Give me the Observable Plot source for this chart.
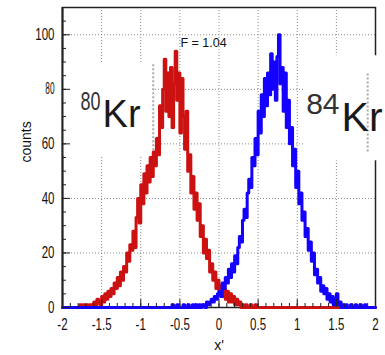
<!DOCTYPE html>
<html><head><meta charset="utf-8">
<script src="https://cdn.jsdelivr.net/npm/d3@7"></script>
<script src="https://cdn.jsdelivr.net/npm/@observablehq/plot@0.6"></script>
<style>body{margin:0;background:#fff} svg{display:block}</style>
</head><body><div id="chart"></div>
<script>
// ---- data ----
const binWidth = 0.02;
const redStart = -1.80;
const redCounts = [
 0,1,0,1,0,1,0,1,1,0, 2,1,3,2,1,4,2,5,3,6,
 4,7,5,9,7,11,8,13,10,15, 13,20,17,23,21,28,22,33,40,31,
 45,38,49,42,52,46,55,48,57,52, 62,56,74,66,80,91,72,86,70,88,
 66,82,94,76,86,64,84,70,58,72, 50,56,42,48,36,42,32,38,26,30,
 20,25,18,21,13,16,10,13,7,10, 6,8,4,7,3,6,2,5,2,4,
 1,3,1,2,0,1,0,1,0,0, 1,0,0,1,0
];
const blueStart = -0.60;
const blueCounts = [
 1,0,0,1,0,0,0,1,0,0, 1,0,0,1,0,1,0,1,0,1,
 1,0,2,1,2,3,2,4,3,5, 6,4,9,7,11,9,14,11,16,13,
 19,16,22,26,24,32,36,33,42,47, 44,55,52,62,56,72,64,78,70,84,
 74,86,78,93,80,90,76,92,100,82, 88,72,86,66,76,60,66,52,58,44,
 50,38,42,32,35,26,29,21,24,17, 20,12,14,9,11,6,8,5,7,3,
 5,2,4,1,3,5,1,2,0,1, 0,1,0,0,1,0,0,1,0,0, 1,0,0,1,0,0
];
const xTicks = [-2, -1.5, -1, -0.5, 0, 0.5, 1, 1.5, 2];
const xTickLabels = ["-2", "-1.5", "-1", "-0.5", "0", "0.5", "1", "1.5", "2"];
const yTicks = [0, 20, 40, 60, 80, 100];
const yTickLabels = ["0", "20", "40", "60", "80", "100"];
const xGrid = [-1.5, -1, -0.5, 0, 0.5, 1, 1.5];
const yGrid = [20, 40, 60, 80, 100];
const xLabel = "x'";
const yLabel = "counts";
const fitText = "F = 1.04";
const massNumbers = ["80", "84"];
const elementSymbol = "Kr";

// ---- build step histograms over the full axis range ----
const XMIN = -2, XMAX = 2;
function steps(start, counts) {
  const n = Math.round((XMAX - XMIN) / binWidth);
  const off = Math.round((start - XMIN) / binWidth);
  const rows = [];
  for (let k = 0; k < n; k++) rows.push({x: XMIN + k * binWidth, y: counts[k - off] ?? 0});
  rows.push({x: XMAX, y: rows[n - 1].y});
  return rows;
}
const xMinor = d3.range(-20, 21).map(d => d / 10);
const yMinor = d3.range(0, 23).map(d => d * 5);

const font = "'Liberation Sans', Arial, sans-serif";
const plot = Plot.plot({
  width: 385, height: 355,
  marginLeft: 62, marginRight: 10, marginTop: 7, marginBottom: 48,
  x: {domain: [-2, 2], axis: null},
  y: {domain: [0, 110], axis: null},
  style: {fontFamily: font, background: "#fff", color: "#222"},
  marks: [
    Plot.ruleX(xGrid, {stroke: "#8a8a8a", strokeDasharray: "1,2"}),
    Plot.ruleY(yGrid, {stroke: "#8a8a8a", strokeDasharray: "1,2"}),
    Plot.frame({stroke: "#222", strokeWidth: 1.5}),
    Plot.rect([0], {x1: -2, x2: -0.84, y1: 55.7, y2: 89.7, fill: "white"}),
    Plot.rect([0], {x1: 1.08, x2: 2.14, y1: 53.8, y2: 92.3, fill: "white", clip: false}),
    Plot.ruleX([-0.84], {y1: 56, y2: 89, stroke: "#aaa", strokeWidth: 2, strokeDasharray: "2,2"}),
    Plot.ruleX([1.9], {y1: 57, y2: 86, stroke: "#aaa", strokeWidth: 2, strokeDasharray: "2,2"}),
    Plot.line(steps(redStart, redCounts), {x: "x", y: "y", curve: "step-after", stroke: "#cc1111", strokeWidth: 3}),
    Plot.line(steps(blueStart, blueCounts), {x: "x", y: "y", curve: "step-after", stroke: "#1400ff", strokeWidth: 3}),
    Plot.ruleX([-2], {stroke: "#222", strokeWidth: 2}),
    Plot.axisY({ticks: yTicks, tickSize: -8, tickFormat: () => "", label: null, stroke: "#222"}),
    Plot.axisY({ticks: yMinor, tickSize: -4, tickFormat: () => "", label: null, stroke: "#222"}),
    Plot.axisY({ticks: yTicks, tickSize: 0, tickPadding: 8, fontSize: 16, fill: "#111",
      tickFormat: d => yTickLabels[yTicks.indexOf(d)], label: null}),
    Plot.axisX({ticks: xTicks, anchor: "bottom", tickSize: -8, tickFormat: () => "", label: null, stroke: "#222"}),
    Plot.axisX({ticks: xMinor, anchor: "bottom", tickSize: -4, tickFormat: () => "", label: null, stroke: "#222"}),
    Plot.axisX({ticks: xTicks, anchor: "bottom", tickSize: 0, tickPadding: 11, fontSize: 16, fill: "#111",
      tickFormat: d => xTickLabels[xTicks.indexOf(d)], label: null}),
    Plot.text([yLabel], {frameAnchor: "left", dx: -36, dy: 5, rotate: -90, fontSize: 14, fill: "#111"}),
    Plot.text([xLabel], {frameAnchor: "bottom", dy: 42, fontSize: 14, fill: "#111"}),
    Plot.text([fitText], {x: -0.198, y: 97.1, fontSize: 12.5, fill: "#111"}),
    Plot.text([massNumbers[0]], {x: -1.514, y: 75.5, textAnchor: "end", fontSize: 25, fill: "#333"}),
    Plot.text([elementSymbol], {x: -1.488, y: 70.7, textAnchor: "start", fontSize: 38, fill: "#1a1a1a"}),
    Plot.text([massNumbers[1]], {x: 1.54, y: 74.4, textAnchor: "end", fontSize: 30, fill: "#333", clip: false}),
    Plot.text([elementSymbol], {x: 1.566, y: 69.6, textAnchor: "start", fontSize: 41, fill: "#1a1a1a", clip: false})
  ]
});
plot.querySelectorAll('g[aria-label="y-axis tick label"] text, g[aria-label="x-axis tick label"] text').forEach(t => {
  t.setAttribute("transform", (t.getAttribute("transform") || "") + " scale(0.72,1)");
});
plot.querySelectorAll('text').forEach(t => {
  if (t.textContent === massNumbers[0]) t.setAttribute("transform", (t.getAttribute("transform") || "") + " scale(0.72,1)");
});
document.getElementById("chart").appendChild(plot);
</script>
</body></html>
